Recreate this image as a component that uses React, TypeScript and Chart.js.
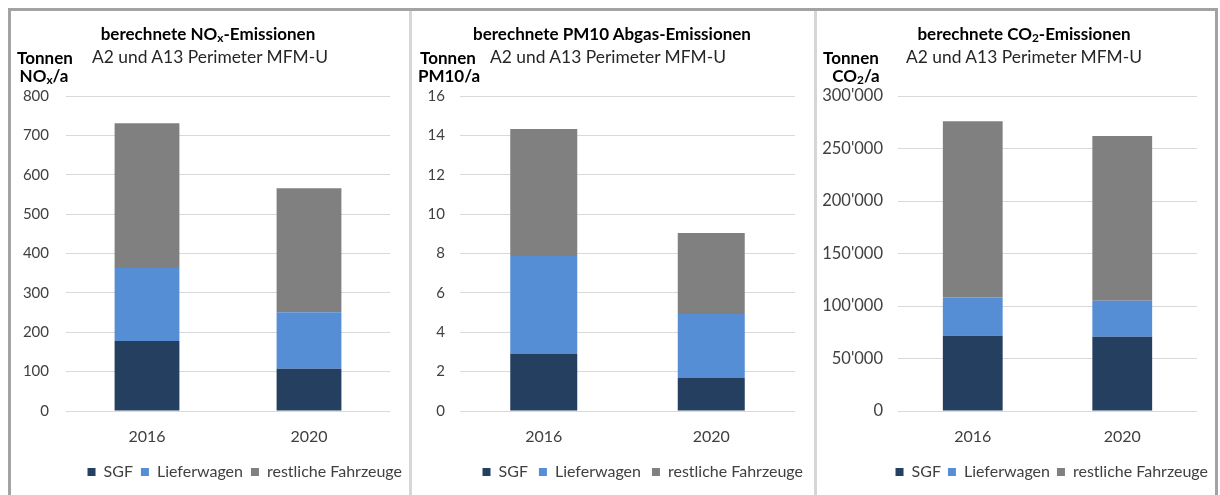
import React, { useEffect, useRef } from 'react';
import { Chart, registerables } from 'chart.js';

Chart.register(...registerables);

// ---------- data ----------
const categories = ['2016', '2020'];
const seriesNames = ['SGF', 'Lieferwagen', 'restliche Fahrzeuge'];
const seriesColors = ['#243F60', '#558ED5', '#808080'];

const noxSGF = [178, 107];
const noxLieferwagen = [185, 144];
const noxRest = [368, 315];
const noxTicks = [0, 100, 200, 300, 400, 500, 600, 700, 800];

const pm10SGF = [2.9, 1.68];
const pm10Lieferwagen = [4.97, 3.25];
const pm10Rest = [6.45, 4.11];
const pm10Ticks = [0, 2, 4, 6, 8, 10, 12, 14, 16];

const co2SGF = [71700, 70700];
const co2Lieferwagen = [36300, 34400];
const co2Rest = [168000, 156700];
const co2Ticks = [0, 50000, 100000, 150000, 200000, 250000, 300000];

const FONT = 'Lato, Carlito, Calibri, "Open Sans", sans-serif';
const TEXT = '#404040';
const LEGEND_SIZE = 16;

const fmtPlain = (v: number) => String(v);
const fmtSwiss = (v: number) => String(v).replace(/\B(?=(\d{3})+(?!\d))/g, "'");

type PanelCfg = {
  left: number;
  width: number;
  axisW: number;
  rightW: number;
  tickPad: number;
  tickSize: number;
  legendPad: number;
  ticks: number[];
  values: number[][];
  fmt: (v: number) => string;
};

function ChartPanel({ cfg }: { cfg: PanelCfg }) {
  const ref = useRef<HTMLCanvasElement>(null);
  useEffect(() => {
    const canvas = ref.current;
    if (!canvas) return;
    const xHeight = 53 - cfg.legendPad;
    const chart = new Chart(canvas, {
      type: 'bar',
      data: {
        labels: categories,
        datasets: cfg.values.map((vals, i) => ({
          label: seriesNames[i],
          data: vals,
          backgroundColor: seriesColors[i],
          borderWidth: 0,
          barPercentage: 0.4,
          categoryPercentage: 1,
        })),
      },
      options: {
        responsive: false,
        animation: false,
        devicePixelRatio: 1,
        layout: { padding: { top: 86, bottom: 5, left: 0, right: 0 } },
        font: { family: FONT },
        plugins: {
          tooltip: { enabled: false },
          title: { display: false },
          legend: {
            position: 'bottom',
            align: 'end',
            labels: {
              boxWidth: 8,
              boxHeight: 8,
              padding: cfg.legendPad,
              color: TEXT,
              font: { family: FONT, size: LEGEND_SIZE },
            },
          },
        },
        scales: {
          x: {
            stacked: true,
            grid: { display: false },
            border: { display: false },
            ticks: { padding: 8, color: TEXT, font: { family: FONT, size: 16 } },
            afterFit: (s: any) => {
              s.height = xHeight;
            },
          },
          y: {
            stacked: true,
            min: cfg.ticks[0],
            max: cfg.ticks[cfg.ticks.length - 1],
            afterBuildTicks: (s: any) => {
              s.ticks = cfg.ticks.map((v) => ({ value: v }));
            },
            grid: { color: '#d9d9d9', drawTicks: false, lineWidth: 1 },
            border: { display: false },
            ticks: {
              padding: cfg.tickPad,
              color: TEXT,
              font: { family: FONT, size: cfg.tickSize },
              callback: (v: any) => cfg.fmt(Number(v)),
            },
            afterFit: (s: any) => {
              s.width = cfg.axisW;
            },
          },
          yR: {
            position: 'right',
            display: true,
            grid: { display: false },
            border: { display: false },
            ticks: { display: false },
            afterFit: (s: any) => {
              s.width = cfg.rightW;
            },
          },
        },
      } as any,
    });
    return () => chart.destroy();
  }, []);
  return (
    <canvas
      ref={ref}
      width={cfg.width}
      height={485}
      style={{ position: 'absolute', left: cfg.left, top: 10, width: cfg.width, height: 485 }}
    />
  );
}

const panels: PanelCfg[] = [
  { left: 10, width: 400, axisW: 56, rightW: 20, tickPad: 17, tickSize: 15, legendPad: 8, ticks: noxTicks, values: [noxSGF, noxLieferwagen, noxRest], fmt: fmtPlain },
  { left: 413, width: 401, axisW: 47, rightW: 19, tickPad: 15, tickSize: 15, legendPad: 11, ticks: pm10Ticks, values: [pm10SGF, pm10Lieferwagen, pm10Rest], fmt: fmtPlain },
  { left: 817, width: 398, axisW: 81, rightW: 18, tickPad: 15, tickSize: 16.5, legendPad: 7, ticks: co2Ticks, values: [co2SGF, co2Lieferwagen, co2Rest], fmt: fmtSwiss },
];

const abs = (x: number, y: number, extra: React.CSSProperties = {}): React.CSSProperties => ({
  position: 'absolute',
  left: x,
  top: y,
  transform: 'translate(-50%, -50%)',
  whiteSpace: 'nowrap',
  lineHeight: 1,
  fontFamily: FONT,
  color: '#000',
  ...extra,
});

const titleStyle = { fontWeight: 700, fontSize: 17 } as React.CSSProperties;
const subStyle = { fontWeight: 400, fontSize: 17.4, color: '#262626' } as React.CSSProperties;
const unitStyle = { fontWeight: 700, fontSize: 17 } as React.CSSProperties;
const subScript: React.CSSProperties = { fontSize: '0.7em', verticalAlign: '-0.25em', lineHeight: 0 };

export default function App() {
  useEffect(() => {
    document.body.style.margin = '0';
    document.body.style.background = '#fff';
  }, []);
  return (
    <div style={{ position: 'relative', width: 1220, height: 495, overflow: 'hidden', background: '#fff' }}>
      {/* frame */}
      <div style={{ position: 'absolute', left: 8, top: 8, width: 1210, height: 3, background: '#a3a3a3' }} />
      <div style={{ position: 'absolute', left: 8, top: 8, width: 3, height: 487, background: '#a3a3a3' }} />
      <div style={{ position: 'absolute', left: 1215, top: 8, width: 3, height: 487, background: '#a3a3a3' }} />
      <div style={{ position: 'absolute', left: 409, top: 11, width: 3, height: 484, background: '#d6d6d6' }} />
      <div style={{ position: 'absolute', left: 814, top: 11, width: 3, height: 484, background: '#d6d6d6' }} />

      {panels.map((p, i) => (
        <ChartPanel key={i} cfg={p} />
      ))}

      {/* panel 1 texts */}
      <div style={abs(208, 33, titleStyle)}>
        berechnete NO<span style={subScript}>x</span>-Emissionen
      </div>
      <div style={abs(210, 57, subStyle)}>A2 und A13 Perimeter MFM-U</div>
      <div style={abs(45, 57, unitStyle)}>Tonnen</div>
      <div style={abs(44, 75, unitStyle)}>
        NO<span style={subScript}>x</span>/a
      </div>

      {/* panel 2 texts */}
      <div style={abs(612, 33, titleStyle)}>berechnete PM10 Abgas-Emissionen</div>
      <div style={abs(608, 57, subStyle)}>A2 und A13 Perimeter MFM-U</div>
      <div style={abs(448, 57, unitStyle)}>Tonnen</div>
      <div style={abs(449, 75, unitStyle)}>PM10/a</div>

      {/* panel 3 texts */}
      <div style={abs(1024, 33, titleStyle)}>
        berechnete CO<span style={subScript}>2</span>-Emissionen
      </div>
      <div style={abs(1024, 57, subStyle)}>A2 und A13 Perimeter MFM-U</div>
      <div style={abs(851, 57, unitStyle)}>Tonnen</div>
      <div style={abs(856, 75, unitStyle)}>
        CO<span style={subScript}>2</span>/a
      </div>
    </div>
  );
}
